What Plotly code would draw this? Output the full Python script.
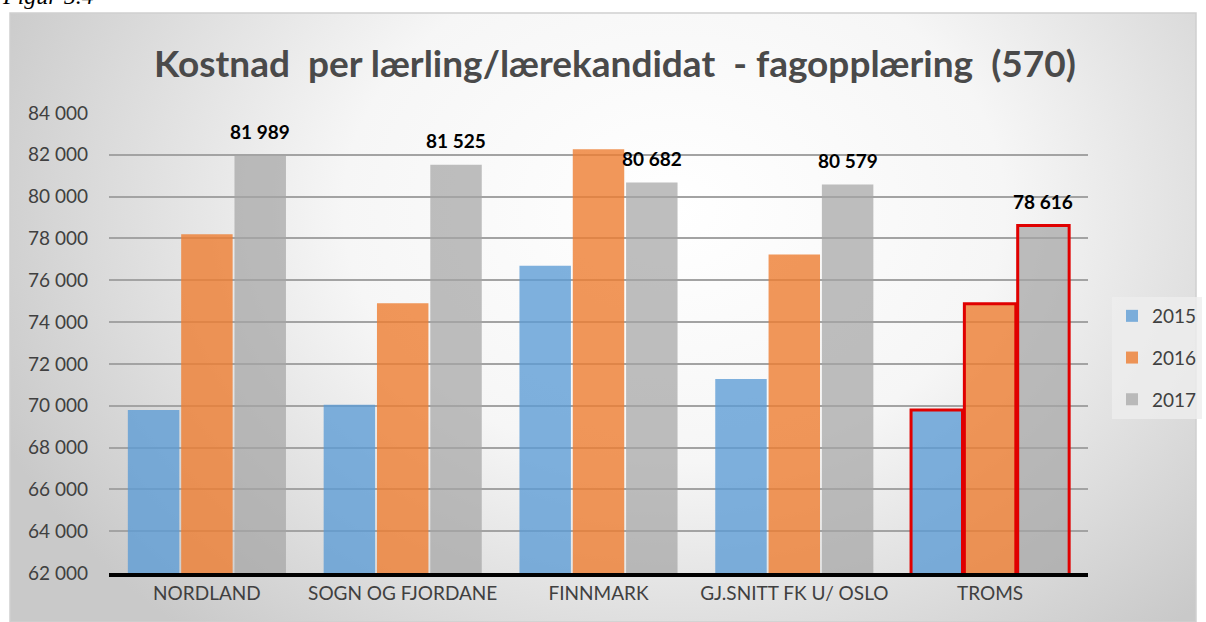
import plotly.graph_objects as go
import urllib.parse

categories = ["NORDLAND", "SOGN OG FJORDANE", "FINNMARK", "GJ.SNITT FK U/ OSLO", "TROMS"]
years = ["2015", "2016", "2017"]
values_2015 = [69800, 70050, 76700, 71280, 69800]
values_2016 = [78200, 74900, 82270, 77230, 74880]
values_2017 = [81989, 81525, 80682, 80579, 78616]
y_ticks = list(range(62000, 84001, 2000))

W, H = 1206, 622
L, R, T, B = 109, 118, 113, 49
PW, PH = W - L - R, H - T - B


def px_x(p):
    return (p - L) / PW


def px_y(p):
    return (H - B - p) / PH


colors = ["rgba(91,155,213,0.78)", "rgba(237,125,49,0.80)", "rgba(165,165,165,0.72)"]
series = [values_2015, values_2016, values_2017]

bargap = 0.183
fig = go.Figure()
for name, vals, col in zip(years, series, colors):
    fig.add_trace(go.Bar(
        x=categories, y=vals, name=name,
        marker=dict(color=col,
                    line=dict(color=["rgba(0,0,0,0)"] * 4 + ["#e00000"],
                              width=[0] * 4 + [3])),
        legendgroup=name,
    ))

# data labels on 2017 bars
offset = (1 - bargap) / 3
for i, v in enumerate(values_2017):
    fig.add_annotation(
        x=i + offset, y=v, xref="x", yref="y",
        text="<b>" + f"{v:,}".replace(",", " ") + "</b>",
        showarrow=False, yanchor="middle", yshift=24,
        font=dict(family="Lato", size=19, color="black"),
    )

# title
fig.add_annotation(
    x=px_x(615), y=px_y(62), xref="paper", yref="paper",
    text="<b>Kostnad  per lærling/lærekandidat  - fagopplæring  (570)</b>",
    showarrow=False, xanchor="center", yanchor="middle",
    font=dict(family="Lato", size=37, color="#4a4a4a"),
)

# caption cut at the top
fig.add_annotation(
    x=px_x(0), y=px_y(11), xref="paper", yref="paper",
    text="<i>Figur 5.4</i>", showarrow=False, xanchor="left", yanchor="bottom",
    font=dict(family="Liberation Serif", size=24, color="black"),
)

svg = (
    "<svg xmlns='http://www.w3.org/2000/svg' width='1186' height='609' viewBox='0 0 1186 609' preserveAspectRatio='none'>"
    "<defs><radialGradient id='g' cx='0.56' cy='0.32' r='0.62' gradientTransform='translate(0.56 0.32) scale(1 1.5) translate(-0.56 -0.32)'>"
    "<stop offset='0' stop-color='#ffffff'/><stop offset='0.45' stop-color='#f6f6f6'/>"
    "<stop offset='1' stop-color='#c9c9c9'/></radialGradient></defs>"
    "<rect width='1186' height='609' fill='url(#g)'/></svg>"
)
src = "data:image/svg+xml;charset=utf-8," + urllib.parse.quote(svg)
fig.add_layout_image(
    source=src, xref="paper", yref="paper",
    x=px_x(10), y=px_y(13), sizex=px_x(1196) - px_x(10), sizey=px_y(13) - px_y(622),
    xanchor="left", yanchor="top", sizing="stretch", layer="below",
)
fig.add_shape(type="rect", xref="paper", yref="paper",
              x0=px_x(10), x1=px_x(1196), y0=px_y(622), y1=px_y(13),
              line=dict(color="#cfcfcf", width=1.5), layer="below")

fig.update_layout(
    width=W, height=H,
    margin=dict(l=L, r=R, t=T, b=B, pad=0, autoexpand=False),
    paper_bgcolor="white", plot_bgcolor="rgba(0,0,0,0)",
    barmode="group", bargap=bargap, bargroupgap=0.035,
    separators=", ",
    font=dict(family="Lato", color="#404040"),
    showlegend=True,
    legend=dict(
        x=px_x(1112), y=px_y(297), xanchor="left", yanchor="top",
        bgcolor="rgba(238,238,238,0.8)", font=dict(family="Lato", size=19, color="#404040"),
        traceorder="grouped", tracegroupgap=14,
    ),
    xaxis=dict(
        showline=True, linecolor="black", linewidth=4,
        ticks="", tickfont=dict(family="Lato", size=19, color="#404040"),
        showgrid=False,
    ),
    yaxis=dict(
        range=[62000, 84000], tickvals=y_ticks, tickformat=",d",
        showgrid=True, gridcolor="#a3a3a3", gridwidth=1.5,
        zeroline=False, showline=False, ticks="",
        ticklabelstandoff=20,
        tickfont=dict(family="Lato", size=19, color="#404040"),
    ),
)

fig.write_html("out.html", config={"displayModeBar": False},
               post_script="document.body.style.margin='0px';")
